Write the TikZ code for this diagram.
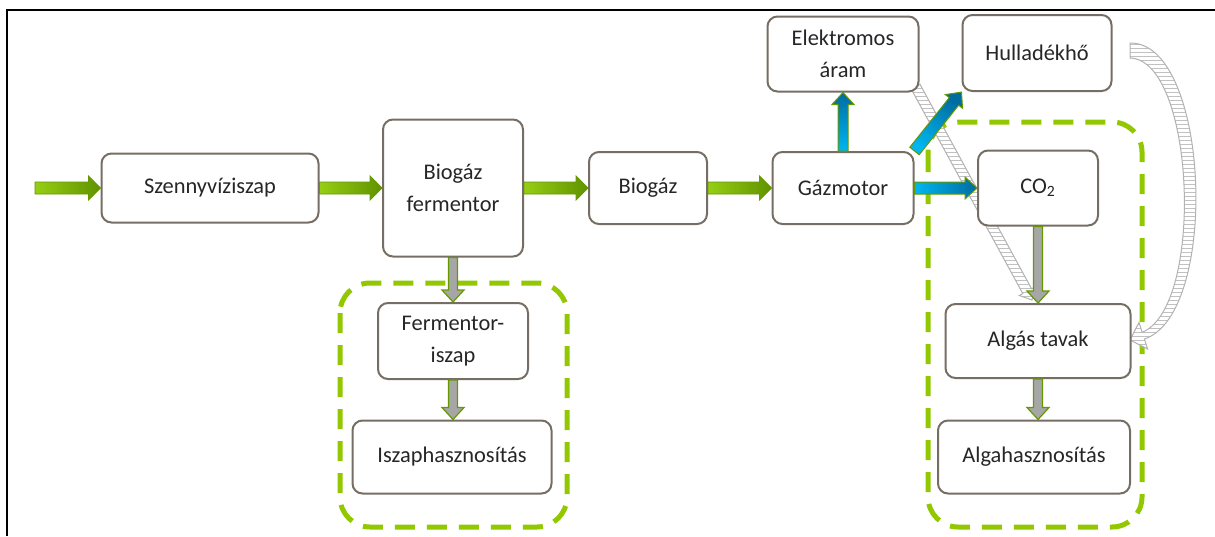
\documentclass[tikz,border=0pt]{standalone}
\usepackage{fontspec}
\setmainfont{Carlito}
\usetikzlibrary{calc,patterns.meta}

\definecolor{boxline}{RGB}{118,110,100}
\definecolor{grpgreen}{RGB}{146,200,0}
\definecolor{flowlight}{RGB}{150,206,20}
\definecolor{flowdark}{RGB}{96,146,0}
\definecolor{edgegreen}{RGB}{100,152,0}
\definecolor{energylight}{RGB}{0,182,240}
\definecolor{energydark}{RGB}{0,108,160}
\definecolor{sludgegray}{RGB}{166,166,166}
\definecolor{hatchgray}{RGB}{178,178,178}

\pgfdeclarelayer{background}
\pgfsetlayers{background,main}

\tikzset{
  proc/.style={draw=boxline, line width=1pt, rounded corners=5pt, fill=white,
    align=center, text=black!85, font=\fontsize{11.2}{16}\selectfont, inner sep=2pt},
  grp/.style={draw=grpgreen, line width=2.5pt, dash pattern=on 10pt off 6pt,
    rounded corners=15pt},
  mainflow/.style={draw=edgegreen, line width=0.4pt, bottom color=flowlight,
    top color=flowdark, shading angle=\bashade},
  energy/.style={draw=edgegreen, line width=0.5pt, bottom color=energylight,
    top color=energydark, shading angle=\bashade},
  sludge/.style={draw=edgegreen, line width=0.6pt, fill=sludgegray},
  heat/.style={draw=hatchgray, line width=0.5pt, preaction={fill=white},
    pattern={Lines[angle=0,distance=2pt,line width=0.35pt]}, pattern color=hatchgray!80},
}

% block arrow: [style]{from}{to}{shaft half width}{head half width}{head length}
\newcommand\blockarrow[6][]{%
  \path let \p1=($(#3)-(#2)$) in \pgfextra{%
    \pgfmathsetmacro\baang{atan2(\y1,\x1)}%
    \pgfmathsetmacro\balen{veclen(\x1,\y1)}%
    \pgfmathsetmacro\bashade{\baang-90}%
    \global\let\baang\baang \global\let\balen\balen \global\let\bashade\bashade};
  \path[#1, shift={(#2)}, rotate=\baang]
    (0pt,-#4) -- (\balen pt-#6,-#4) -- (\balen pt-#6,-#5) -- (\balen pt,0pt)
    -- (\balen pt-#6,#5) -- (\balen pt-#6,#4) -- (0pt,#4) -- cycle;
}

\begin{document}
\begin{tikzpicture}[x=0.5pt,y=-0.5pt]
  \useasboundingbox (0,0) rectangle (1215,536);
  \draw[line width=1pt] (7,536) -- (7,10) -- (1215,10);

  % main line
  \node[proc, minimum width=108.5pt, minimum height=34.5pt] (szenny) at (210,188) {Szennyvíziszap};
  \node[proc, minimum width=70pt, minimum height=68.5pt] (ferm) at (453,188) {Biogáz\\fermentor};
  \node[proc, minimum width=59pt, minimum height=36pt] (biogaz) at (648,188) {Biogáz};
  \node[proc, minimum width=70.5pt, minimum height=36pt] (gazmotor) at (843,188) {Gázmotor};
  \node[proc, minimum width=75.5pt, minimum height=37.5pt] (elektro) at (843,54) {Elektromos\\áram};
  \node[proc, minimum width=74.5pt, minimum height=38pt] (hullad) at (1037,53) {Hulladékhő};
  \node[proc, minimum width=60pt, minimum height=37.5pt] (co2) at (1038,188) {CO\textsubscript{2}};

  % sludge branch
  \node[proc, minimum width=75pt, minimum height=38pt] (fiszap) at (453,341) {Fermentor-\\iszap};
  \node[proc, minimum width=99.5pt, minimum height=36.5pt] (iszaph) at (452,457) {Iszaphasznosítás};

  % algae branch
  \node[proc, minimum width=92.5pt, minimum height=37pt] (algas) at (1038,341) {Algás tavak};
  \node[proc, minimum width=96pt, minimum height=36.5pt] (algah) at (1034,457) {Algahasznosítás};

  \coordinate (in) at (35,188);
  \coordinate (iszaph-in) at (fiszap.south |- iszaph.north);
  \coordinate (algah-in) at (algas.south |- algah.north);
  \coordinate (heat-s) at ($(elektro.south east)+(-4,-6)$);
  \coordinate (heat-e) at ($(algas.north)+(-6,-3)$);

  \begin{pgfonlayer}{background}
    \draw[grp] (340,283) rectangle (567,527);
    \draw[grp] (928,122) rectangle (1142,527);
    \blockarrow[heat]{heat-s}{heat-e}{2.5pt}{4.5pt}{5pt}
    % waste heat back to the ponds
    \path[heat] (1130,43) .. controls (1210,42) and (1220,314) .. (1144.4,339)
      -- (1147.6,349) -- (1130,340) -- (1139,322.4) -- (1142.2,332.4)
      .. controls (1205,306) and (1195,60) .. (1130,58) -- cycle;
  \end{pgfonlayer}

  \blockarrow[mainflow]{in}{szenny.west}{3pt}{6pt}{6pt}
  \blockarrow[mainflow]{szenny.east}{ferm.west}{3pt}{6pt}{6pt}
  \blockarrow[mainflow]{ferm.east}{biogaz.west}{3pt}{6pt}{6pt}
  \blockarrow[mainflow]{biogaz.east}{gazmotor.west}{3pt}{6pt}{6pt}

  \blockarrow[energy]{gazmotor.north}{elektro.south}{2.5pt}{5.5pt}{6pt}
  \blockarrow[energy]{gazmotor.north east}{hullad.south west}{3pt}{5.5pt}{6pt}
  \blockarrow[energy]{gazmotor.east}{co2.west}{3pt}{5.5pt}{6pt}

  \blockarrow[sludge]{ferm.south}{fiszap.north}{2.25pt}{5.5pt}{6pt}
  \blockarrow[sludge]{fiszap.south}{iszaph-in}{2.25pt}{5.5pt}{6pt}
  \blockarrow[sludge]{co2.south}{algas.north}{2.25pt}{5.5pt}{6pt}
  \blockarrow[sludge]{algas.south}{algah-in}{2.25pt}{5.5pt}{6pt}
\end{tikzpicture}
\end{document}
